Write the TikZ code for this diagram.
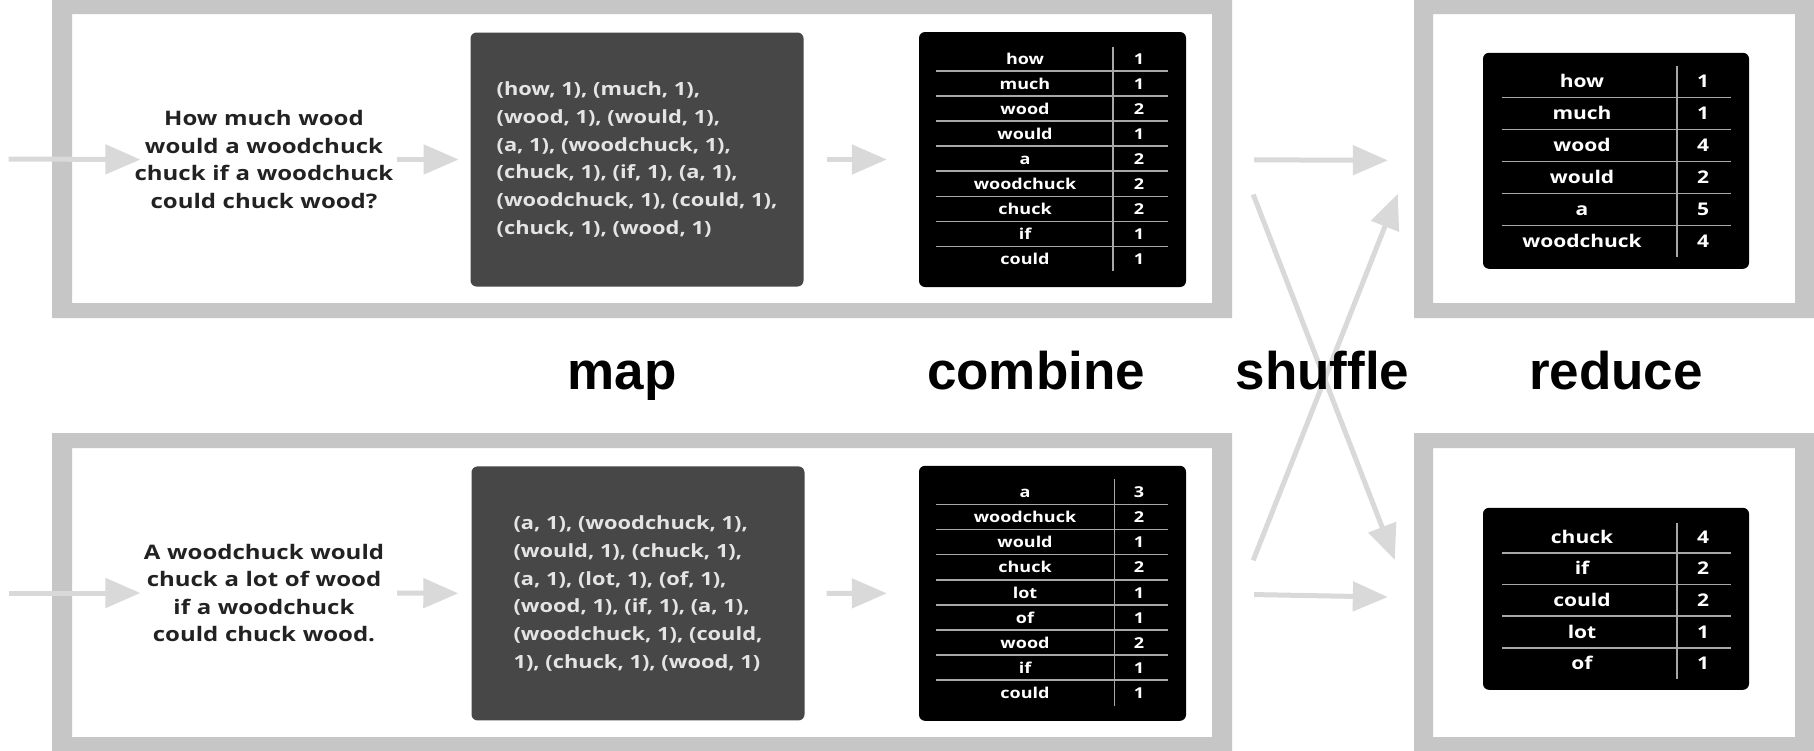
\documentclass[tikz,border=0pt]{standalone}
\usepackage{fontspec}
\usetikzlibrary{arrows.meta}
\newfontfamily\cardfont[FakeStretch=1.2]{Open Sans}
\newfontfamily\stagefont{Liberation Sans}
\definecolor{framegray}{HTML}{C6C6C6}
\definecolor{arrowgray}{HTML}{D9D9D9}
\definecolor{mapgray}{HTML}{474747}
\definecolor{maptext}{HTML}{E4E4E4}
\definecolor{rulegray}{HTML}{A8A8A8}
\definecolor{inkgray}{HTML}{222222}
\tikzset{
  sent_n/.style = {align=center, inner sep=0pt, text width=266pt, text=inkgray,
    font=\cardfont\bfseries\fontsize{20}{27.6}\selectfont},
  map_n/.style = {rounded corners=6pt, fill=mapgray, minimum width=333pt,
    minimum height=254pt, align=left, text=maptext,
    font=\cardfont\bfseries\fontsize{18.2}{27.7}\selectfont},
  tab_n/.style = {rounded corners=6pt, fill=black, minimum width=267pt},
  cell_n/.style = {inner sep=0pt, text=white, text height=0.75em, text depth=0.2em},
  small_cell/.style = {cell_n, font=\cardfont\bfseries\fontsize{15}{18}\selectfont},
  big_cell/.style = {cell_n, font=\cardfont\bfseries\fontsize{17.5}{21}\selectfont},
  row_rule/.style = {draw=rulegray, line width=1.6pt},
  flow_arr/.style = {draw=arrowgray, line width=5pt,
    -{Triangle[length=35pt,width=29pt]}},
  stage_n/.style = {anchor=base, inner sep=0pt,
    font=\stagefont\bfseries\fontsize{53}{60}\selectfont}}

\begin{document}
\begin{tikzpicture}[x=1pt,y=-1pt]
\useasboundingbox (0,0) rectangle (1814,750);
\clip (0,0) rectangle (1814,750);
\fill[white] (0,0) rectangle (1814,750);

% frames
\fill[framegray, even odd rule] (52,-6) rectangle (1232,318) (72,14) rectangle (1212,303);
\fill[framegray, even odd rule] (1414,-6) rectangle (1820,318) (1433,14) rectangle (1795,303);
\fill[framegray, even odd rule] (52,433) rectangle (1232,760) (72,448) rectangle (1212,737);
\fill[framegray, even odd rule] (1414,433) rectangle (1820,760) (1433,448) rectangle (1795,737);

% input sentences
\node [sent_n] (sent1) at (264,159.5) {How much wood\\would a woodchuck\\chuck if a woodchuck\\could chuck wood?};
\node [sent_n] (sent2) at (264,593) {A woodchuck would\\chuck a lot of wood\\if a woodchuck\\could chuck wood.};
\coordinate (in1) at (8.6,159);
\coordinate (in2) at (8.6,593);

% map output
\node [map_n] (map1) at (637,159.5) {(how, 1), (much, 1),\\(wood, 1), (would, 1),\\(a, 1), (woodchuck, 1),\\(chuck, 1), (if, 1), (a, 1),\\(woodchuck, 1), (could, 1),\\(chuck, 1), (wood, 1)};
\node [map_n] (map2) at (638,593.4) {(a, 1), (woodchuck, 1),\\(would, 1), (chuck, 1),\\(a, 1), (lot, 1), (of, 1),\\(wood, 1), (if, 1), (a, 1),\\(woodchuck, 1), (could,\\1), (chuck, 1), (wood, 1)};

% combine tables
\node [tab_n, minimum height=255pt] (comb1) at (1052.5,159.5) {};
\node [tab_n, minimum height=255pt] (comb2) at (1052.5,593.3) {};
\begin{scope}[shift={(comb1.center)}]
  \foreach \w/\n [count=\i] in {how/1, much/1, wood/2, would/1, a/2, woodchuck/2, chuck/2, if/1, could/1} {
    \node [small_cell] (c1w\i) at (-27.5,{(\i-5)*25.1+2.2}) {\w};
    \node [small_cell] (c1n\i) at (86.5,{(\i-5)*25.1+2.2}) {\n};
  }
  \foreach \i in {1,...,8}
    \draw [row_rule] (-116.5,{(\i-4.5)*25.1-0.8}) -- (115.5,{(\i-4.5)*25.1-0.8});
  \draw [row_rule] (60.5,-112.5) -- (60.5,111.5);
\end{scope}
\begin{scope}[shift={(comb2.center)}]
  \foreach \w/\n [count=\i] in {a/3, woodchuck/2, would/1, chuck/2, lot/1, of/1, wood/2, if/1, could/1} {
    \node [small_cell] (c2w\i) at (-27.5,{(\i-5)*25.1+2}) {\w};
    \node [small_cell] (c2n\i) at (86.5,{(\i-5)*25.1+2}) {\n};
  }
  \foreach \i in {1,...,8}
    \draw [row_rule] (-116.5,{(\i-4.5)*25.1-1}) -- (115.5,{(\i-4.5)*25.1-1});
  \draw [row_rule] (62,-114) -- (62,112.5);
\end{scope}

% reduce tables
\node [tab_n, minimum width=266pt, minimum height=216pt] (red1) at (1616,160.8) {};
\node [tab_n, minimum width=266pt, minimum height=182pt] (red2) at (1616,598.8) {};
\begin{scope}[shift={(red1.center)}]
  \foreach \w/\n [count=\i] in {how/1, much/1, wood/4, would/2, a/5, woodchuck/4} {
    \node [big_cell] (r1w\i) at (-34,{(\i-3.5)*32+4}) {\w};
    \node [big_cell] (r1n\i) at (87,{(\i-3.5)*32+4}) {\n};
  }
  \foreach \i in {1,...,5}
    \draw [row_rule] (-114,{(\i-3)*32+0.5}) -- (115,{(\i-3)*32+0.5});
  \draw [row_rule] (61,-95) -- (61,96);
\end{scope}
\begin{scope}[shift={(red2.center)}]
  \foreach \w/\n [count=\i] in {chuck/4, if/2, could/2, lot/1, of/1} {
    \node [big_cell] (r2w\i) at (-34,{(\i-3)*31.6+5}) {\w};
    \node [big_cell] (r2n\i) at (87,{(\i-3)*31.6+5}) {\n};
  }
  \foreach \i in {1,...,4}
    \draw [row_rule] (-114,{(\i-2.5)*31.6+1.5}) -- (115,{(\i-2.5)*31.6+1.5});
  \draw [row_rule] (61,-76) -- (61,80.5);
\end{scope}

% arrows
\draw [flow_arr, shorten >=-9.6pt] (in1) -- (sent1.west);
\draw [flow_arr, shorten >=-9.6pt] (in2) -- (sent2.west);
\draw [flow_arr, shorten >=11.7pt] (sent1.east) -- (map1.west);
\draw [flow_arr, shorten >=13pt] (sent2.east) -- (map2.west);
\draw [flow_arr, shorten <=22.9pt, shorten >=32pt] (map1.east) -- (comb1.west);
\draw [flow_arr, shorten <=22pt, shorten >=32pt] (map2.east) -- (comb2.west);
\draw [flow_arr, shorten <=68pt, shorten >=95pt] (comb1.east) -- (red1.west);
\draw [flow_arr, shorten <=68pt, shorten >=95pt] (comb2.east) -- (red2.west);
\draw [flow_arr] ([shift={(67,35)}]comb1.east) -- ([shift={(-88,-39)}]red2.west);
\draw [flow_arr] ([shift={(67,-33)}]comb2.east) -- ([shift={(-85,33)}]red1.west);

% stage labels
\node [stage_n] (lmap) at (622,389) {map};
\node [stage_n] (lcomb) at (1036,389) {combine};
\node [stage_n] (lshuf) at (1322.5,389) {shuffle};
\node [stage_n] (lred) at (1616,389) {reduce};
\end{tikzpicture}
\end{document}
